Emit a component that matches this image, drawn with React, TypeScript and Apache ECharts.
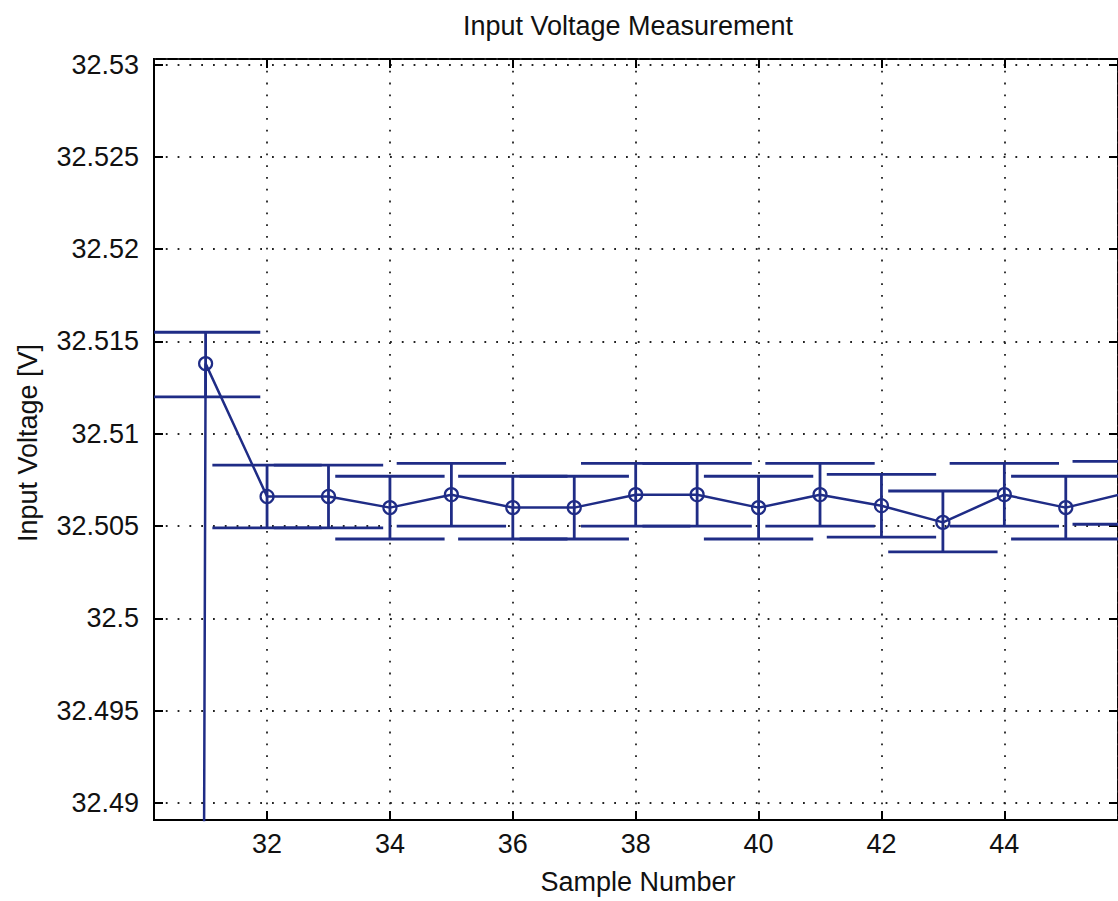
import React, { useEffect, useRef } from "react";
import * as echarts from "echarts";

// ---- data ----
const samples = [30, 31, 32, 33, 34, 35, 36, 37, 38, 39, 40, 41, 42, 43, 44, 45, 46];
const voltage = [
  31.5, 32.5138, 32.5066, 32.5066, 32.506, 32.5067, 32.506, 32.506, 32.5067,
  32.5067, 32.506, 32.5067, 32.5061, 32.5052, 32.5067, 32.506, 32.5068,
];
const errLow = [
  0.0017, 0.0018, 0.0017, 0.0017, 0.0017, 0.0017, 0.0017, 0.0017, 0.0017,
  0.0017, 0.0017, 0.0017, 0.0017, 0.0016, 0.0017, 0.0017, 0.0017,
];
const errHigh = [
  0.0017, 0.0017, 0.0017, 0.0017, 0.0017, 0.0017, 0.0017, 0.0017, 0.0017,
  0.0017, 0.0017, 0.0017, 0.0017, 0.0017, 0.0017, 0.0017, 0.0017,
];
const xTicks = [32, 34, 36, 38, 40, 42, 44];
const yTicks = [32.49, 32.495, 32.5, 32.505, 32.51, 32.515, 32.52, 32.525, 32.53];

const TITLE = "Input Voltage Measurement";
const X_NAME = "Sample Number";
const Y_NAME = "Input Voltage [V]";

// ---- styles ----
const COLOR = "#1f2c86";
const FONT = '"Liberation Sans", Arial, Helvetica, sans-serif';
const FS = 27;
const CAP_HALF = 0.89;
const X_MIN = 30.16;
const X_MAX = 45.85;
const Y_MIN = 32.48908;
const Y_MAX = 32.5303;

export default function App() {
  const ref = useRef<HTMLDivElement>(null);
  useEffect(() => {
    if (!ref.current) return;
    const chart = echarts.init(ref.current, null, { renderer: "svg" });

    const lineData = samples.map((s, i) => [s, voltage[i]]);
    const errData = samples.map((s, i) => [s, voltage[i] - errLow[i], voltage[i] + errHigh[i]]);

    const xFmt = (v: number) =>
      xTicks.some((t) => Math.abs(t - v) < 1e-6) ? String(Math.round(v)) : "";
    const yFmt = (v: number) => {
      const t = yTicks.find((t) => Math.abs(t - v) < 1e-7);
      return t === undefined ? "" : String(t);
    };
    const dotted = { color: "#222", width: 1.8, type: [1.8, 10] as any };

    const commonX = {
      type: "value",
      min: X_MIN,
      max: X_MAX,
      splitNumber: 8,
      minInterval: 2,
      maxInterval: 2,
    };
    const commonY = {
      type: "value",
      min: Y_MIN,
      max: Y_MAX,
      splitNumber: 8,
      minInterval: 0.005,
      maxInterval: 0.005,
      scale: true,
    };
    const tick = { show: true, inside: true, length: 9, lineStyle: { color: "#000", width: 2 } };

    chart.setOption({
      animation: false,
      backgroundColor: "#fff",
      grid: {
        left: 154,
        right: -5,
        top: 59,
        bottom: 81,
        show: true,
        borderColor: "#000",
        borderWidth: 2,
        backgroundColor: "transparent",
      },
      xAxis: [
        {
          ...commonX,
          position: "bottom",
          axisLine: { show: true, onZero: false, lineStyle: { color: "#000", width: 2 } },
          axisTick: tick,
          axisLabel: {
            formatter: xFmt,
            color: "#111",
            fontSize: FS,
            fontFamily: FONT,
            margin: 10,
            showMinLabel: false,
            showMaxLabel: false,
          },
          splitLine: { show: true, lineStyle: dotted },
        },
        {
          ...commonX,
          position: "top",
          axisLine: { show: false },
          axisTick: tick,
          axisLabel: { show: false },
          splitLine: { show: false },
        },
      ],
      yAxis: [
        {
          ...commonY,
          position: "left",
          axisLine: { show: true, onZero: false, lineStyle: { color: "#000", width: 2 } },
          axisTick: tick,
          axisLabel: {
            formatter: yFmt,
            color: "#111",
            fontSize: FS,
            fontFamily: FONT,
            margin: 15,
            showMinLabel: false,
            showMaxLabel: false,
          },
          splitLine: { show: true, lineStyle: dotted },
        },
        {
          ...commonY,
          position: "right",
          axisLine: { show: false },
          axisTick: tick,
          axisLabel: { show: false },
          splitLine: { show: false },
        },
      ],
      series: [
        {
          type: "custom",
          xAxisIndex: 0,
          yAxisIndex: 0,
          clip: true,
          data: errData,
          renderItem: (params: any, api: any) => {
            const x = api.value(0);
            const lo = api.value(1);
            const hi = api.value(2);
            const pLo = api.coord([x, lo]);
            const pHi = api.coord([x, hi]);
            const pR = api.coord([x + CAP_HALF, hi]);
            const hw = pR[0] - pHi[0];
            const style = { stroke: COLOR, lineWidth: 2.8, fill: "none" };
            return {
              type: "group",
              children: [
                { type: "line", shape: { x1: pHi[0], y1: pHi[1], x2: pLo[0], y2: pLo[1] }, style },
                { type: "line", shape: { x1: pHi[0] - hw, y1: pHi[1], x2: pHi[0] + hw, y2: pHi[1] }, style },
                { type: "line", shape: { x1: pLo[0] - hw, y1: pLo[1], x2: pLo[0] + hw, y2: pLo[1] }, style },
              ],
            };
          },
          z: 2,
        },
        {
          type: "line",
          xAxisIndex: 0,
          yAxisIndex: 0,
          data: lineData,
          clip: true,
          symbol: "circle",
          symbolSize: 13,
          showAllSymbol: true,
          lineStyle: { color: COLOR, width: 2.5 },
          itemStyle: { color: "transparent", borderColor: COLOR, borderWidth: 2.2 },
          z: 3,
        },
      ],
      graphic: [
        {
          type: "text",
          x: 628,
          y: 26,
          style: {
            text: TITLE,
            fill: "#111",
            font: `${FS}px ${FONT}`,
            textAlign: "center",
            textVerticalAlign: "middle",
          },
        },
        {
          type: "text",
          x: 638,
          y: 882,
          style: {
            text: X_NAME,
            fill: "#111",
            font: `${FS}px ${FONT}`,
            textAlign: "center",
            textVerticalAlign: "middle",
          },
        },
        {
          type: "text",
          x: 28,
          y: 443,
          rotation: Math.PI / 2,
          style: {
            text: Y_NAME,
            fill: "#111",
            font: `${FS}px ${FONT}`,
            textAlign: "center",
            textVerticalAlign: "middle",
          },
        },
      ],
    });
    return () => chart.dispose();
  }, []);
  return (
    <div
      ref={ref}
      style={{ position: "absolute", left: 0, top: 0, width: 1118, height: 901, background: "#fff" }}
    />
  );
}
